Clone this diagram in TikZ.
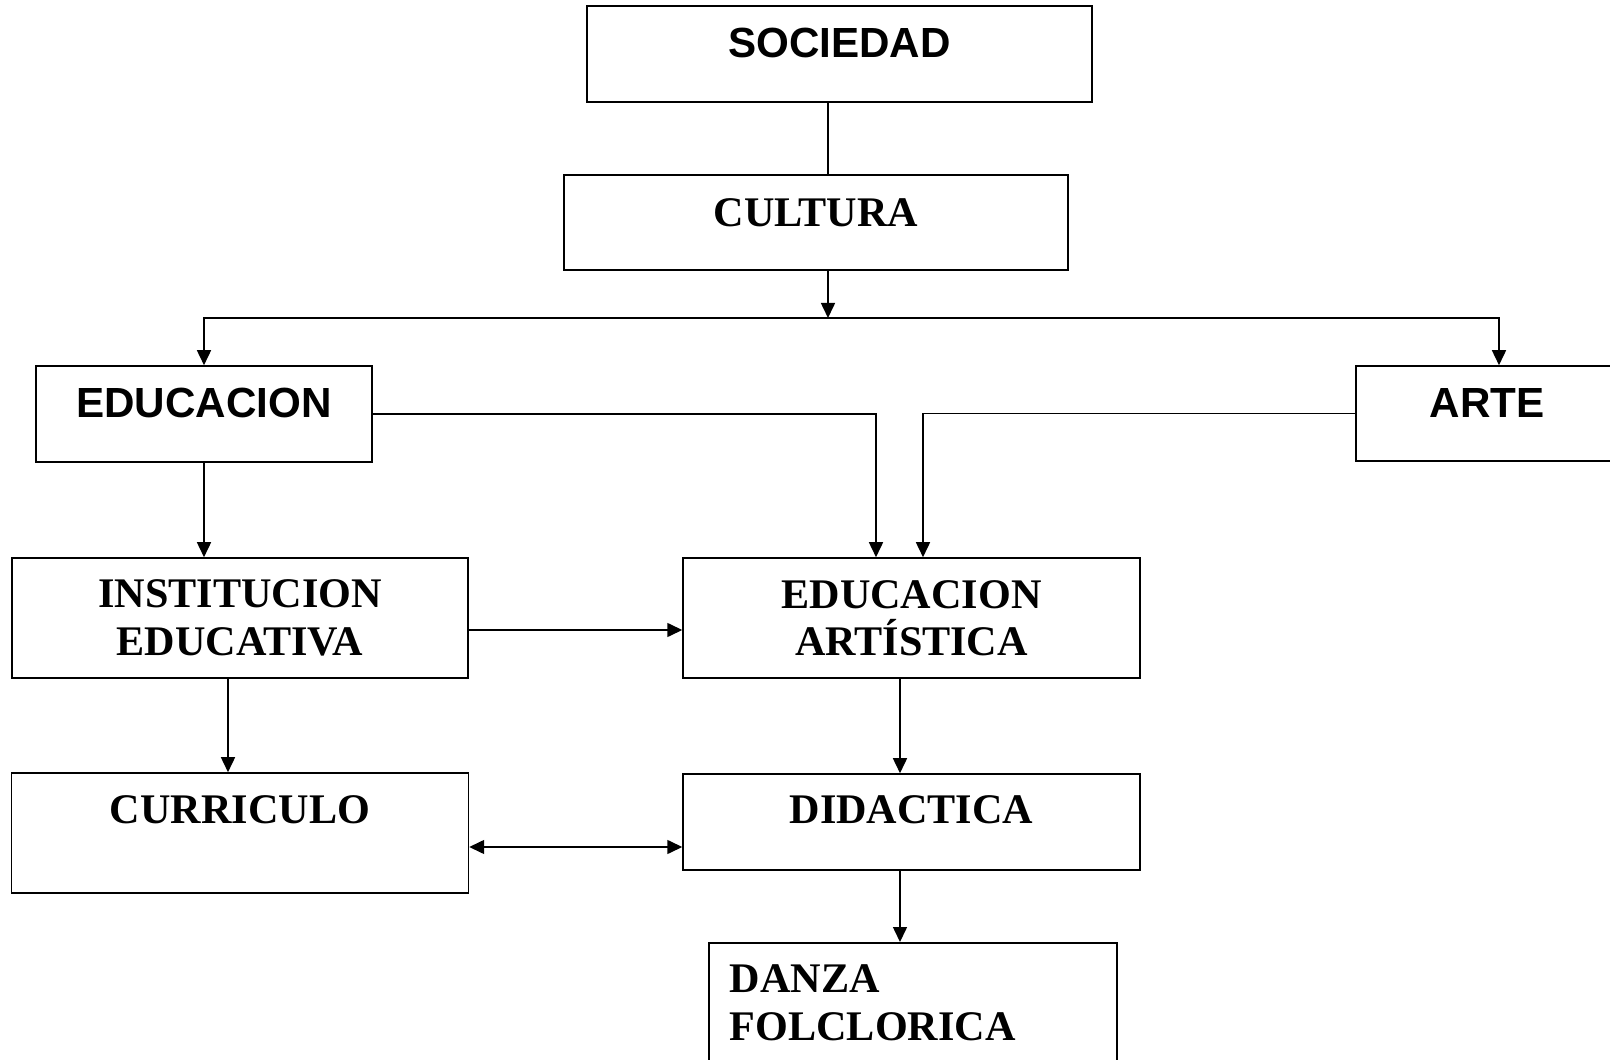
\documentclass[tikz,border=0pt]{standalone}
\usepackage{fontspec}
\setmainfont{Liberation Serif}
\newfontfamily\arialfont{Liberation Sans}
\usetikzlibrary{arrows.meta}

\begin{document}
\begin{tikzpicture}[x=0.02cm,y=-0.02cm,line width=0.9pt,
    caja/.style={draw,line width=0.9pt,inner sep=0pt,align=center,
                 font=\fontsize{24}{27}\selectfont\bfseries},
    cajasans/.style={caja,font=\arialfont\fontsize{24}{27}\selectfont\bfseries},
    flecha/.style={-{Triangle[length=0.3cm,width=0.28cm]}},
    dobleflecha/.style={{Triangle[length=0.3cm,width=0.28cm]}-{Triangle[length=0.3cm,width=0.28cm]}}]
    \clip (0,0) rectangle (1610,1060);

    % cajas
    \node[cajasans,minimum width=10.1cm,minimum height=1.92cm,text height=1.04cm,text depth=0.88cm] (sociedad) at (839.5,54) {SOCIEDAD};
    \node[caja,minimum width=10.08cm,minimum height=1.9cm,text height=1.04cm,text depth=0.86cm] (cultura) at (816,222.5) {CULTURA};
    \node[cajasans,minimum width=6.72cm,minimum height=1.92cm,text height=1.04cm,text depth=0.88cm] (educacion) at (204,414) {EDUCACION};
    \node[cajasans,minimum width=5.24cm,minimum height=1.9cm,text height=1.04cm,text depth=0.86cm] (arte) at (1487,413.5) {ARTE};
    \node[caja,minimum width=9.12cm,minimum height=2.4cm] (institucion) at (240,618) {INSTITUCION\\EDUCATIVA};
    \node[caja,minimum width=9.14cm,minimum height=2.4cm] (edart) at (911.5,618) {EDUCACION\\ARTÍSTICA};
    \node[caja,minimum width=9.14cm,minimum height=2.4cm,text height=1.0cm,text depth=1.4cm] (curriculo) at (240,833) {CURRICULO};
    \node[caja,minimum width=9.14cm,minimum height=1.92cm,text height=0.98cm,text depth=0.94cm] (didactica) at (911.5,822) {DIDACTICA};
    \node[caja,anchor=north west,text width=7.32cm,inner xsep=0.42cm,inner ysep=0.44cm,align=left] (danza) at (708,942) {DANZA\\FOLCLORICA};

    % ejes de los conectores
    \coordinate (ejeA) at (828,318);
    \coordinate (ejeB) at (1499,0);
    \coordinate (ejeC) at (876,0);
    \coordinate (ejeD) at (923,0);
    \coordinate (ejeE) at (0,630);
    \coordinate (ejeF) at (228,0);
    \coordinate (ejeG) at (0,847);
    \coordinate (ejeH) at (900,0);

    % conectores
    \draw (sociedad.south -| ejeA) -- (cultura.north -| ejeA);
    \draw[flecha] (cultura.south -| ejeA) -- (ejeA);
    \draw[flecha] (ejeA) -| (educacion.north);
    \draw[flecha] (ejeA) -| (arte.north -| ejeB);
    \draw[flecha] (educacion.east) -| (edart.north -| ejeC);
    \draw[flecha] (arte.west) -| (edart.north -| ejeD);
    \draw[flecha] (educacion.south) -- (institucion.north -| educacion.south);
    \draw[flecha] (institucion.east |- ejeE) -- (edart.west |- ejeE);
    \draw[flecha] (institucion.south -| ejeF) -- (curriculo.north -| ejeF);
    \draw[dobleflecha] (curriculo.east |- ejeG) -- (didactica.west |- ejeG);
    \draw[flecha] (edart.south -| ejeH) -- (didactica.north -| ejeH);
    \draw[flecha] (didactica.south -| ejeH) -- (danza.north -| ejeH);
\end{tikzpicture}
\end{document}
